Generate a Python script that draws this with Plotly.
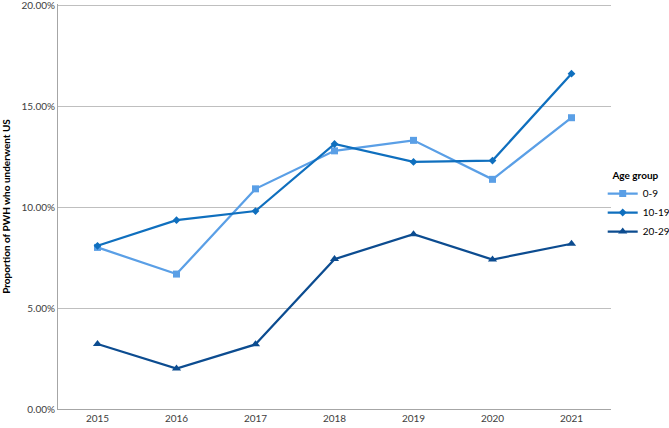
import plotly.graph_objects as go

years = ["2015", "2016", "2017", "2018", "2019", "2020", "2021"]
age_0_9 = [0.0800, 0.0668, 0.1090, 0.1278, 0.1330, 0.1137, 0.1442]
age_10_19 = [0.0808, 0.0935, 0.0980, 0.1312, 0.1223, 0.1230, 0.1660]
age_20_29 = [0.0322, 0.0200, 0.0320, 0.0742, 0.0865, 0.0740, 0.0818]
y_ticks = [0, 0.05, 0.10, 0.15, 0.20]

series = [
    ("0-9", age_0_9, "#5A9FE6", "square", 7),
    ("10-19", age_10_19, "#0F6FBE", "diamond", 6),
    ("20-29", age_20_29, "#0C4C90", "triangle-up", 8),
]

fig = go.Figure()
for name, vals, color, sym, sz in series:
    fig.add_trace(go.Scatter(
        x=years, y=vals, name=name, mode="lines+markers",
        line=dict(color=color, width=2.25),
        marker=dict(symbol=sym, size=sz, color=color),
    ))

font = "Lato, 'Open Sans', sans-serif"
fig.update_layout(
    width=669, height=428,
    margin=dict(l=58, r=58, t=4, b=19, autoexpand=False),
    paper_bgcolor="white", plot_bgcolor="white",
    font=dict(family=font, size=10, color="#404040"),
    showlegend=True,
    legend=dict(
        title=dict(text="&nbsp;&nbsp;&nbsp;<b>Age group</b>", font=dict(size=10, color="#000000")),
        x=0.985, xanchor="left", y=0.6, yanchor="top",
        font=dict(size=10, color="#000000"),
        itemwidth=30, tracegroupgap=0,
        bgcolor="rgba(0,0,0,0)",
    ),
    xaxis=dict(
        type="category", range=[-0.5, 6.5], automargin=False,
        showgrid=False, showline=True, linecolor="#A6A6A6", linewidth=1,
        ticks="", tickfont=dict(size=10, color="#404040"),
        fixedrange=True,
    ),
    yaxis=dict(
        range=[0, 0.2005], tickmode="array", tickvals=y_ticks,
        tickformat=".2%", automargin=False, ticklabeloverflow="allow",
        showgrid=True, gridcolor="#BFBFBF", gridwidth=1,
        showline=True, linecolor="#A6A6A6", linewidth=1,
        zeroline=False, ticks="",
        tickfont=dict(size=10, color="#404040"),
        title=dict(text="<b>Proportion of PWH who underwent US</b>",
                   font=dict(size=10, color="#000000"), standoff=8),
        fixedrange=True,
    ),
)

fig.write_html("out.html", config={"displayModeBar": False},
               post_script="document.body.style.margin='0';")
